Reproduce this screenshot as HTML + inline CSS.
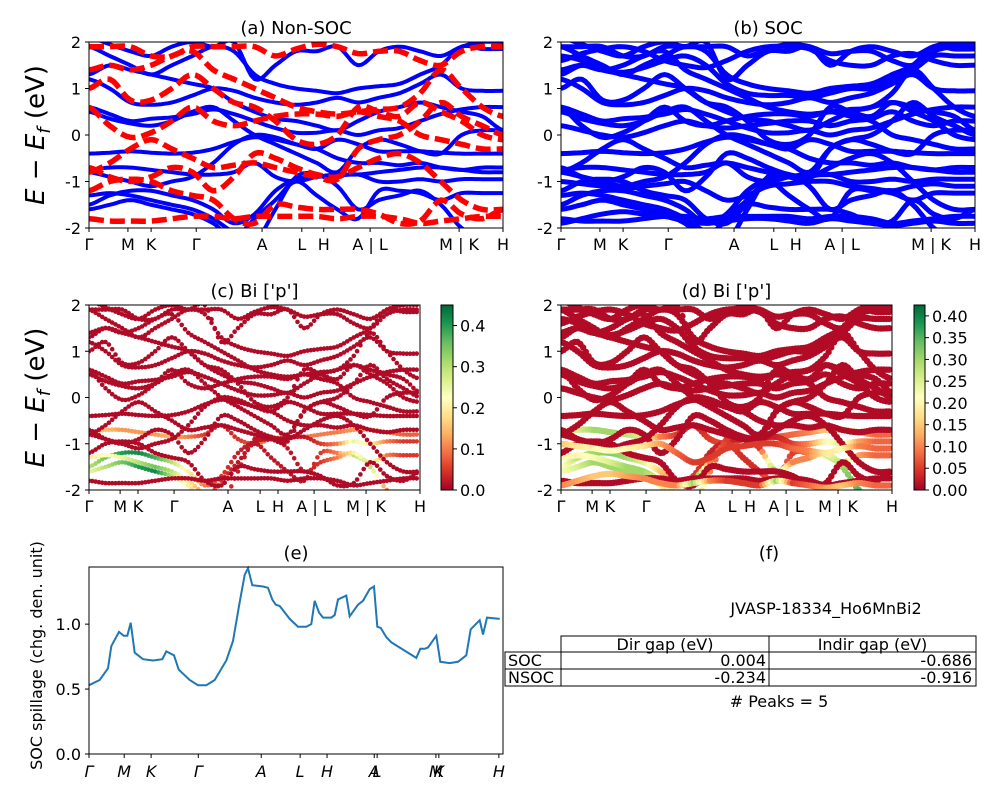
<!DOCTYPE html>
<html><head><meta charset="utf-8">
<style>
body{margin:0;background:#fff;}
svg{display:block;font-family:"DejaVu Sans","Liberation Sans",sans-serif;}
</style></head>
<body>
<svg id="fig" width="1000" height="800" viewBox="0 0 1000 800" xmlns="http://www.w3.org/2000/svg">
<defs>
<clipPath id="clipA"><rect x="89" y="42" width="414" height="186"/></clipPath>
<clipPath id="clipB"><rect x="561" y="42" width="414" height="186"/></clipPath>
<clipPath id="clipC"><rect x="89" y="305" width="331" height="185"/></clipPath>
<clipPath id="clipD"><rect x="561" y="305" width="331" height="185"/></clipPath>
<linearGradient id="rdylgn" x1="0" y1="1" x2="0" y2="0">
<stop offset="0" stop-color="#a50026"/><stop offset="0.1" stop-color="#d73027"/><stop offset="0.2" stop-color="#f46d43"/><stop offset="0.3" stop-color="#fdae61"/><stop offset="0.4" stop-color="#fee08b"/><stop offset="0.5" stop-color="#ffffbf"/><stop offset="0.6" stop-color="#d9ef8b"/><stop offset="0.7" stop-color="#a6d96a"/><stop offset="0.8" stop-color="#66bd63"/><stop offset="0.9" stop-color="#1a9850"/><stop offset="1" stop-color="#006837"/>
</linearGradient>
</defs>
<g id="layer"></g>
</svg>
<script>
// ---- data ----
const energyTicks = [-2, -1, 0, 1, 2];
const kLabelsAB = ["Γ","M","K","Γ","A","L","H","A | L","M | K","H"];
const kTickFracAB = [0,0.094,0.15,0.259,0.418,0.514,0.567,0.679,0.894,1];
const kTickFracCD = [0,0.094,0.148,0.257,0.42,0.517,0.571,0.68,0.837,1];
const kLabelsE = ["Γ","M","K","Γ","A","L","H","A","L","M","K","H"];
const kTickFracE = [0,0.085,0.15,0.264,0.416,0.51,0.575,0.689,0.696,0.838,0.845,0.99];
// non-SOC spin-up bands (21 samples along path)
const blueBands = [
[-0.4,-0.38,-0.35,-0.38,-0.4,-0.38,-0.3,-0.15,-0.05,-0.1,-0.2,-0.3,-0.1,-0.2,-0.35,-0.35,-0.35,-0.38,-0.4,-0.4,-0.4],
[0.6,0.45,0.3,0.35,0.38,0.45,0.55,0.45,0.3,0.15,0.05,0.05,0.1,0.0,0.1,0.15,0.3,0.45,0.55,0.6,0.6],
[1.2,1.0,0.7,0.65,0.7,0.85,1.0,0.95,0.8,0.7,0.65,0.7,0.8,0.7,0.8,0.9,1.1,1.3,1.0,0.95,0.95],
[-0.75,-0.7,-0.7,-0.75,-0.8,-0.85,-0.85,-0.8,-0.6,-0.9,-1.0,-0.9,-0.85,-0.85,-0.8,-0.75,-0.7,-0.7,-0.75,-0.8,-0.8],
[-1.5,-1.3,-1.2,-1.2,-1.3,-1.4,-1.6,-1.9,-1.7,-1.2,-0.95,-0.9,-0.88,-0.85,-1.0,-1.0,-0.95,-1.0,-0.95,-0.95,-0.95],
[-1.6,-1.5,-1.4,-1.5,-1.6,-1.7,-1.9,-2.2,-1.8,-1.4,-1.0,-1.3,-1.6,-1.8,-1.2,-1.2,-1.25,-1.4,-1.25,-1.25,-1.25],
[1.9,1.7,1.5,1.3,1.5,1.7,1.9,1.8,1.3,1.1,1.0,0.95,0.9,1.0,1.05,1.1,1.3,1.5,1.9,1.85,1.85],
[1.3,1.5,1.4,1.3,1.2,1.1,1.0,0.7,0.5,0.35,0.3,0.2,0.1,0.3,0.5,0.6,0.7,0.6,0.5,0.4,0.1],
[2.1,1.95,1.8,1.7,1.9,2.0,1.9,2.0,1.2,1.5,1.8,1.8,1.9,1.5,1.8,1.9,1.8,1.7,1.9,2.0,2.0],
[-0.8,-0.9,-1.0,-1.1,-1.0,-0.9,-0.6,-0.2,0.0,-0.05,-0.2,-0.3,-0.5,-0.6,-0.6,-0.65,-0.6,-0.7,-0.75,-0.7,-0.7],
[0.5,0.35,0.25,0.2,0.3,0.5,0.6,0.3,0.0,-0.2,-0.4,-0.6,-0.8,-0.3,-0.1,-0.2,-0.35,-0.4,0.0,0.1,0.1],
[-1.3,-1.25,-1.3,-1.4,-1.5,-1.6,-1.8,-2.1,-2.3,-1.6,-0.9,-0.85,-1.1,-1.6,-1.4,-1.3,-1.2,-1.5,-2.0,-2.2,-2.2]
];
// non-SOC spin-down bands
const redBands = [
[0.6,0.2,-0.05,0.05,0.3,0.6,0.3,0.2,0.3,0.4,0.45,0.45,0.4,0.5,0.4,0.3,0.0,-0.1,-0.2,-0.3,-0.3],
[1.0,1.2,0.75,0.75,1.0,1.3,1.0,0.7,0.6,0.3,-0.1,-0.2,0.0,0.6,0.5,0.4,0.7,0.5,0.3,0.0,-0.1],
[-0.7,-0.9,-1.0,-0.9,-0.7,-0.8,-1.2,-0.9,-0.4,-0.5,-0.7,-0.85,-0.9,-0.7,-0.5,-0.4,-0.6,-1.0,-1.4,-1.6,-1.6],
[-1.8,-1.85,-1.85,-1.85,-1.8,-1.75,-1.75,-1.8,-1.75,-1.75,-1.75,-1.75,-1.8,-1.75,-1.75,-1.8,-1.9,-1.85,-1.8,-1.75,-1.75],
[1.4,1.5,1.4,1.5,1.7,1.8,1.4,1.2,1.0,0.8,0.6,0.5,0.45,0.5,0.55,0.6,0.9,1.4,1.0,0.6,0.4],
[1.9,1.9,1.9,1.7,1.7,1.9,1.9,1.9,1.9,1.7,1.85,1.95,1.9,1.75,1.8,1.8,1.6,1.5,1.8,1.9,1.9],
[-1.2,-1.0,-0.95,-1.0,-1.2,-1.3,-1.4,-1.8,-1.9,-1.5,-1.55,-1.6,-1.6,-1.6,-1.7,-1.9,-1.85,-1.4,-1.7,-1.8,-1.6],
[-0.8,-0.6,-0.3,-0.1,-0.3,-0.5,-0.7,-0.65,-0.6,-0.7,-0.8,-0.9,-0.95,-0.3,-0.1,0.0,0.3,0.7,0.4,0.2,0.0]
];
// extra SOC-split bands visible only in panel b / d
const socExtraBands = [
[1.7,1.6,1.4,1.35,1.45,1.6,1.7,1.5,1.1,0.9,0.85,0.85,0.8,0.9,1.0,1.0,1.2,1.4,1.7,1.7,1.7],
[-1.0,-1.05,-1.1,-1.15,-1.1,-1.05,-1.0,-1.2,-1.4,-1.3,-1.1,-1.05,-1.0,-1.0,-1.1,-1.15,-1.2,-1.1,-1.05,-1.1,-1.1],
[0.2,0.1,0.0,-0.05,0.05,0.2,0.3,0.2,0.15,0.2,0.25,0.3,0.3,0.2,0.3,0.35,0.5,0.3,0.2,0.3,0.3],
[-1.9,-1.8,-1.7,-1.65,-1.7,-1.75,-1.85,-1.9,-1.85,-1.8,-1.8,-1.85,-1.9,-1.8,-1.85,-1.9,-1.95,-1.9,-1.85,-1.9,-1.9],
[1.6,1.75,1.85,1.9,1.8,1.6,1.5,1.45,1.6,1.8,1.9,1.9,1.85,1.6,1.5,1.5,1.7,1.75,1.6,1.5,1.5]
];
// Bi p projection weights (per band, 21 samples) for panel c and d
const lowW = 0.01;
const weightsC = {
 4:[0.3,0.35,0.4,0.42,0.38,0.3,0.2,0.1,0.05,0.03,0.02,0.02,0.02,0.02,0.05,0.1,0.25,0.2,0.1,0.05,0.05],
 5:[0.25,0.3,0.35,0.4,0.42,0.3,0.2,0.1,0.05,0.02,0.02,0.02,0.02,0.02,0.05,0.1,0.3,0.25,0.1,0.05,0.05],
 3:[0.15,0.15,0.12,0.12,0.12,0.15,0.1,0.05,0.02,0.05,0.08,0.1,0.1,0.1,0.1,0.1,0.12,0.12,0.1,0.08,0.08],
 11:[0.2,0.22,0.25,0.3,0.35,0.3,0.2,0.1,0.05,0.03,0.02,0.02,0.02,0.02,0.05,0.1,0.2,0.3,0.1,0.05,0.05]
};
const weightsD = {
 3:[0.2,0.25,0.3,0.3,0.28,0.25,0.1,0.05,0.03,0.05,0.06,0.07,0.07,0.07,0.08,0.1,0.15,0.2,0.12,0.08,0.08],
 4:[0.2,0.28,0.3,0.32,0.3,0.25,0.15,0.08,0.05,0.03,0.03,0.03,0.03,0.03,0.05,0.1,0.2,0.25,0.12,0.08,0.08],
 5:[0.22,0.25,0.3,0.3,0.3,0.3,0.2,0.1,0.4,0.1,0.05,0.04,0.04,0.1,0.05,0.1,0.25,0.3,0.12,0.08,0.08],
 11:[0.2,0.2,0.22,0.25,0.3,0.3,0.25,0.15,0.4,0.1,0.05,0.04,0.05,0.35,0.1,0.1,0.2,0.3,0.35,0.1,0.1],
 21:[0.15,0.18,0.2,0.22,0.2,0.18,0.12,0.08,0.05,0.05,0.05,0.05,0.05,0.05,0.08,0.1,0.18,0.2,0.1,0.08,0.08],
 23:[0.1,0.12,0.15,0.15,0.12,0.1,0.1,0.1,0.3,0.1,0.05,0.05,0.05,0.3,0.05,0.08,0.12,0.15,0.1,0.08,0.08]
};
// SOC spillage (panel e)
const spillK = [268,300,325,335,358,372,383,393,405,430,460,488,500,523,537,570,595,620,645,680,700,720,735,745,758,790,805,818,828,840,870,895,920,935,945,958,970,995,1005,1015,1040,1050,1075,1090,1110,1123,1133,1143,1160,1175,1250,1262,1275,1285,1310,1322,1350,1375,1400,1413,1440,1450,1462,1500];
const spillV = [0.53,0.57,0.66,0.83,0.94,0.91,0.91,1.01,0.78,0.73,0.72,0.73,0.79,0.76,0.65,0.57,0.53,0.53,0.57,0.72,0.87,1.17,1.38,1.43,1.30,1.29,1.28,1.19,1.15,1.14,1.04,0.98,0.98,1.0,1.18,1.09,1.05,1.05,1.07,1.19,1.22,1.06,1.15,1.18,1.27,1.29,0.98,0.97,0.90,0.86,0.74,0.81,0.81,0.82,0.91,0.71,0.70,0.71,0.76,0.96,1.03,0.92,1.05,1.04];
const spillTicks = [0.0, 0.5, 1.0];
const cbTicksC = [0.0,0.1,0.2,0.3,0.4];
const cbTicksD = [0.00,0.05,0.10,0.15,0.20,0.25,0.30,0.35,0.40];
const tableHeader = ["Dir gap (eV)","Indir gap (eV)"];
const tableRows = [["SOC","0.004","-0.686"],["NSOC","-0.234","-0.916"]];

// ---- drawing ----
const NS="http://www.w3.org/2000/svg";
const layer=document.getElementById('layer');
function el(tag,attrs,parent){const e=document.createElementNS(NS,tag);for(const k in attrs)e.setAttribute(k,attrs[k]);(parent||layer).appendChild(e);return e;}
function txt(x,y,s,size,anchor,parent,extra){const t=el('text',Object.assign({x:x,y:y,'font-size':size,'text-anchor':anchor||'middle',fill:'#000'},extra||{}),parent);t.textContent=s;return t;}
const cmapStops=[[165,0,38],[215,48,39],[244,109,67],[253,174,97],[254,224,139],[255,255,191],[217,239,139],[166,217,106],[102,189,99],[26,152,80],[0,104,55]];
function cmap(v){v=Math.max(0,Math.min(1,v))*10;const i=Math.min(9,Math.floor(v)),f=v-i;const a=cmapStops[i],b=cmapStops[i+1];return `rgb(${Math.round(a[0]+(b[0]-a[0])*f)},${Math.round(a[1]+(b[1]-a[1])*f)},${Math.round(a[2]+(b[2]-a[2])*f)})`;}
// Catmull-Rom interpolation for smooth bands
function cr(b,t){const n=b.length-1;let i=Math.min(n-1,Math.floor(t));const f=t-i;
  const p0=b[Math.max(0,i-1)],p1=b[i],p2=b[i+1],p3=b[Math.min(n,i+2)];
  return 0.5*((2*p1)+(-p0+p2)*f+(2*p0-5*p1+4*p2-p3)*f*f+(-p0+3*p1-3*p2+p3)*f*f*f);}

function panel(name,x0,y0,w,h,title,tickFrac,labels,showYLabel){
  const g=el('g',{},layer);
  
  
  const sx=f=>x0+f*w, sy=e=>y0+(2-e)/4*h;
  const t=txt(x0+w/2,y0-8,title,18,'middle',g);
  
  return {g,sx,sy,x0,y0,w,h,tickFrac,labels,showYLabel};
}
function frame(p){
  const r=el('rect',{x:p.x0,y:p.y0,width:p.w,height:p.h,fill:'none',stroke:'#000','stroke-width':1},p.g);
  
  energyTicks.forEach(e=>{
    const y=p.sy(e);
    el('line',{x1:p.x0-4,x2:p.x0,y1:y,y2:y,stroke:'#000'},p.g);
    const t=txt(p.x0-8,y+6,String(e),16,'end',p.g);
    
  });
  p.tickFrac.forEach((f,i)=>{
    const x=p.sx(f);
    el('line',{x1:x,x2:x,y1:p.y0+p.h,y2:p.y0+p.h+4,stroke:'#000'},p.g);
    const t=txt(x,p.y0+p.h+22,p.labels[i],16,'middle',p.g);
    
  });
  if(p.showYLabel){
    const t=el('text',{x:0,y:0,'font-size':26,'text-anchor':'middle',transform:`translate(44,${p.y0+p.h/2}) rotate(-90)`},p.g);
    t.innerHTML='<tspan font-style="italic">E</tspan> − <tspan font-style="italic">E</tspan><tspan font-style="italic" font-size="18" dy="6">f</tspan><tspan dy="-6"> (eV)</tspan>';
    
  }
}
function bandPath(p,band){const n=band.length-1,steps=n*6;let d='';
  for(let s=0;s<=steps;s++){const t=s/6;d+=(s?'L':'M')+p.sx(t/n).toFixed(1)+','+p.sy(cr(band,t)).toFixed(1);}return d;}

// Panel a
const pa=panel('panel-a-non-soc',89,42,414,186,'(a) Non-SOC',kTickFracAB,kLabelsAB,true);
const ga=el('g',{'clip-path':'url(#clipA)'},pa.g);
blueBands.forEach(b=>{const l=el('path',{d:bandPath(pa,b),fill:'none',stroke:'#0000ff','stroke-width':4,'stroke-linejoin':'round'},ga);
});
redBands.forEach(b=>{const l=el('path',{d:bandPath(pa,b),fill:'none',stroke:'#ff0000','stroke-width':5.5,'stroke-dasharray':'15,6'},ga);
});
frame(pa);

// Panel b
const pb=panel('panel-b-soc',561,42,414,186,'(b) SOC',kTickFracAB,kLabelsAB,false);
const gb=el('g',{'clip-path':'url(#clipB)'},pb.g);
blueBands.concat(redBands,socExtraBands).forEach(b=>{const l=el('path',{d:bandPath(pb,b),fill:'none',stroke:'#0000ff','stroke-width':5,'stroke-linejoin':'round'},gb);
});
frame(pb);

// Panels c,d (projected scatter)
function scatterPanel(p,clip,bands,weights,vmax,r,sub){
  const g=el('g',{'clip-path':`url(#${clip})`},p.g);
  bands.forEach((b,bi)=>{
    const n=b.length-1, w=weights[bi];
    for(let i=0;i<n;i++)for(let s=0;s<sub;s++){
      const f=s/sub, e=cr(b,i+f);
      const wv=w?(w[i]+(w[i+1]-w[i])*f):lowW;
      const c=el('circle',{cx:p.sx((i+f)/n).toFixed(1),cy:p.sy(e).toFixed(1),r:r,fill:cmap(wv/vmax)},g);
      
    }
  });
}
function colorbar(name,x,y,w,h,vmax,ticks,dec){
  const g=el('g',{},layer);
  
  el('rect',{x:x,y:y,width:w,height:h,fill:'url(#rdylgn)',stroke:'#000'},g);
  ticks.forEach(t=>{const yy=y+h-t/vmax*h;el('line',{x1:x+w,x2:x+w+4,y1:yy,y2:yy,stroke:'#000'},g);
    const tt=txt(x+w+7,yy+6,t.toFixed(dec),16,'start',g);});
}
const pc=panel('panel-c-bi-p',89,305,331,185,"(c)  Bi ['p']",kTickFracCD,kLabelsAB,true);
scatterPanel(pc,'clipC',blueBands.concat(redBands),weightsC,0.45,2.3,5);
frame(pc);
colorbar('colorbar-c',441,305,12,185,0.45,cbTicksC,1);
const pd=panel('panel-d-bi-p',561,305,331,185,"(d) Bi ['p']",kTickFracCD,kLabelsAB,false);
scatterPanel(pd,'clipD',blueBands.concat(redBands,socExtraBands),weightsD,0.425,3.2,6);
frame(pd);
colorbar('colorbar-d',914,305,11,185,0.425,cbTicksD,2);

// Panel e
(function(){
  const g=el('g',{},layer);
  const x0=89,y0=567,w=414,h=187,ymax=1.44;
  const sx=k=>x0+(k-268)/1242*w, sy=v=>y0+h-v/ymax*h;
  txt(x0+w/2,y0-8,'(e)',18,'middle',g);
  const d=spillK.map((k,i)=>(i?'L':'M')+sx(k).toFixed(1)+','+sy(spillV[i]).toFixed(1)).join(' ');
  const l=el('path',{d:d,fill:'none',stroke:'#1f77b4','stroke-width':2},g);
  
  el('rect',{x:x0,y:y0,width:w,height:h,fill:'none',stroke:'#000'},g);
  spillTicks.forEach(v=>{const y=sy(v);el('line',{x1:x0-4,x2:x0,y1:y,y2:y,stroke:'#000'},g);
    const t=txt(x0-8,y+6,v.toFixed(1),16,'end',g);});
  kTickFracE.forEach((f,i)=>{const x=x0+f*w;el('line',{x1:x,x2:x,y1:y0+h,y2:y0+h+4,stroke:'#000'},g);
    const t=txt(x,y0+h+23,kLabelsE[i],16,'middle',g,{'font-style':'italic'});});
  const yt=el('text',{x:0,y:0,'font-size':16,'text-anchor':'middle',transform:`translate(42,${y0+h/2-5}) rotate(-90)`},g);
  yt.textContent='SOC spillage (chg. den. unit)';
  
})();

// Panel f
(function(){
  const g=el('g',{},layer);
  txt(769,559,'(f)',18,'middle',g);
  const id=txt(826,614,'JVASP-18334_Ho6MnBi2',16,'middle',g);
  const cols=[505,561,769,976], rows=[636,652,669,686];
  el('rect',{x:561,y:636,width:415,height:16,fill:'none',stroke:'#000'},g);
  el('line',{x1:769,x2:769,y1:636,y2:686,stroke:'#000'},g);
  el('rect',{x:505,y:652,width:471,height:34,fill:'none',stroke:'#000'},g);
  el('line',{x1:505,x2:976,y1:669,y2:669,stroke:'#000'},g);
  el('line',{x1:561,x2:561,y1:652,y2:686,stroke:'#000'},g);
  tableHeader.forEach((s,i)=>{const t=txt((cols[i+1]+cols[i+2])/2,650,s,16,'middle',g);});
  tableRows.forEach((r,ri)=>{const y=rows[ri+1]+14;
    const a=txt(508,y,r[0],16,'start',g);
    const b=txt(766,y,r[1],16,'end',g);
    const c=txt(972,y,r[2],16,'end',g);});
  const pk=txt(779,707,'# Peaks = 5',16,'middle',g);
})();
</script>
</body></html>
